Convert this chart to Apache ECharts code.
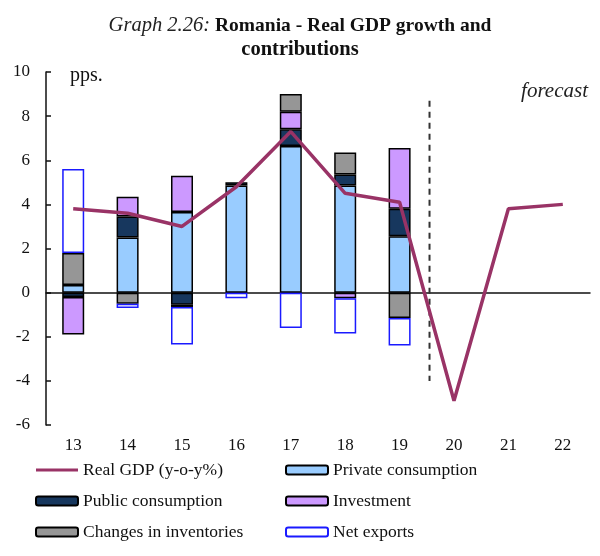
<!DOCTYPE html>
<html>
<head>
<meta charset="utf-8">
<script src="https://cdn.jsdelivr.net/npm/echarts@6/dist/echarts.min.js"></script>
<style>
  html, body { margin: 0; padding: 0; background: #fff; }
  #chart { width: 600px; height: 556px; }
</style>
</head>
<body>
<div id="chart"></div>
<script>
// data
const years = ['13', '14', '15', '16', '17', '18', '19', '20', '21', '22']
const realGdp = [3.8, 3.6, 3.0, 4.8, 7.3, 4.5, 4.1, -4.9, 3.8, 4.0]
const privateCons = [0.35, 2.5, 3.65, 4.85, 6.65, 4.85, 2.55, null, null, null]
const publicCons = [-0.2, 0.95, -0.55, 0.15, 0.75, 0.5, 1.25, null, null, null]
const investment = [-1.7, 0.9, 1.65, null, 0.8, -0.25, 2.75, null, null, null]
const inventories = [1.45, -0.5, -0.1, null, 0.8, 1.0, -1.15, null, null, null]
const netExports = [3.8, -0.2, -1.7, -0.25, -1.6, -1.6, -1.25, null, null, null]
const yTicks = { min: -6, max: 10, interval: 2 }
// forecast separator (position on a 0..10 scale of category slots)
const forecastX = 7.05
const forecastRange = [8.7, -4.0]

const serif = 'Liberation Serif'
const chart = echarts.init(document.getElementById('chart'))

function barSeries(name, data, color, border) {
  return {
    name: name,
    type: 'bar',
    stack: 'contrib',
    barWidth: 22,
    data: data,
    itemStyle: { color: color, borderColor: border || '#000', borderWidth: 1.5 }
  }
}

const legendText = { fontFamily: serif, fontSize: 17.5, color: '#111', padding: [0, 0, 0, 0] }

chart.setOption({
  animation: false,
  title: [
    {
      text: '{i|Graph 2.26:} {b|Romania - Real GDP growth and}',
      left: 'center', top: 11,
      textStyle: {
        rich: {
          i: { fontFamily: serif, fontStyle: 'italic', fontWeight: 'normal', fontSize: 20.5, color: '#222' },
          b: { fontFamily: serif, fontWeight: 'bold', fontSize: 19.5, color: '#111' }
        }
      }
    },
    {
      text: 'contributions',
      left: 'center', top: 34,
      textStyle: { fontFamily: serif, fontWeight: 'bold', fontSize: 20.5, color: '#111' }
    },
    {
      text: 'pps.',
      left: 65, top: 61,
      textStyle: { fontFamily: serif, fontWeight: 'normal', fontSize: 20, color: '#111' }
    },
    {
      text: 'forecast',
      right: 7, top: 76,
      textStyle: { fontFamily: serif, fontStyle: 'italic', fontWeight: 'normal', fontSize: 21, color: '#222' }
    }
  ],
  grid: { left: 46, right: 10, top: 72, bottom: 131 },
  legend: [
    {
      data: [
        { name: 'Real GDP (y-o-y%)', icon: 'path://M0,0 L42,0 L42,3 L0,3 Z' },
        'Public consumption',
        'Changes in inventories'
      ],
      orient: 'vertical', left: 35, top: 461, itemGap: 13, padding: 0,
      itemWidth: 42, itemHeight: 9,
      textStyle: legendText
    },
    {
      data: ['Private consumption', 'Investment', 'Net exports'],
      orient: 'vertical', left: 285, top: 461, itemGap: 13, padding: 0,
      itemWidth: 42, itemHeight: 9,
      textStyle: legendText
    }
  ],
  xAxis: [
    {
      type: 'category', data: years,
      axisLine: { onZero: true, lineStyle: { color: '#111', width: 1.5 } },
      axisTick: { inside: true, length: 5, lineStyle: { color: '#111', width: 1.5 } },
      axisLabel: { show: false }
    },
    {
      type: 'category', data: years, position: 'bottom',
      axisLine: { show: false, onZero: false },
      axisTick: { show: false },
      axisLabel: { margin: 12, fontFamily: serif, fontSize: 17, color: '#111' }
    },
    { type: 'value', min: 0, max: 10, show: false }
  ],
  yAxis: {
    type: 'value', min: yTicks.min, max: yTicks.max, interval: yTicks.interval,
    axisLine: { show: true, lineStyle: { color: '#111', width: 1.5 } },
    axisTick: { show: true, inside: true, length: 5, lineStyle: { color: '#111', width: 1.5 } },
    splitLine: { show: false },
    axisLabel: { margin: 16, fontFamily: serif, fontSize: 17, color: '#111' }
  },
  series: [
    barSeries('Private consumption', privateCons, '#99ccff'),
    barSeries('Public consumption', publicCons, '#17375e'),
    barSeries('Investment', investment, '#cc99ff'),
    barSeries('Changes in inventories', inventories, '#969696'),
    barSeries('Net exports', netExports, '#ffffff', '#1a1aff'),
    {
      name: 'Real GDP (y-o-y%)',
      type: 'line',
      data: realGdp,
      symbol: 'none',
      z: 5,
      lineStyle: { color: '#993366', width: 3.5 },
      itemStyle: { color: '#993366' }
    },
    {
      name: 'forecast line',
      type: 'line',
      xAxisIndex: 2,
      data: forecastRange.map(v => [forecastX, v]),
      symbol: 'none',
      z: 4,
      lineStyle: { color: '#333', width: 2, type: [6, 5] }
    }
  ]
})
</script>
</body>
</html>
